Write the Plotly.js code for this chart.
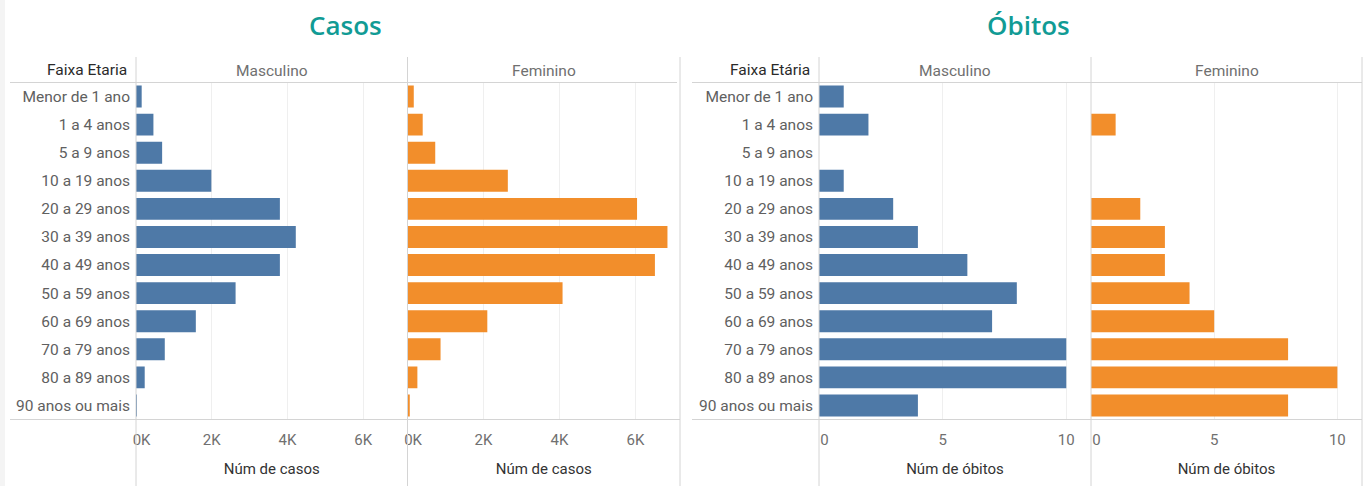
<!DOCTYPE html>
<html>
<head>
<meta charset="utf-8">
<script src="https://cdn.plot.ly/plotly-3.0.1.min.js"></script>
<style>
  html, body { margin: 0; padding: 0; background: #ffffff; }
  #chart { width: 1363px; height: 486px; }
</style>
</head>
<body>
<div id="chart"></div>
<script>
// ---- data ----
const faixas = ["Menor de 1 ano", "1 a 4 anos", "5 a 9 anos", "10 a 19 anos", "20 a 29 anos",
  "30 a 39 anos", "40 a 49 anos", "50 a 59 anos", "60 a 69 anos", "70 a 79 anos",
  "80 a 89 anos", "90 anos ou mais"];
const casosMasculino = [150, 460, 690, 1990, 3800, 4220, 3800, 2630, 1580, 760, 230, 25];
const casosFeminino  = [165, 400, 730, 2640, 6040, 6840, 6510, 4080, 2100, 870, 260, 60];
const obitosMasculino = [1, 2, 0, 1, 3, 4, 6, 8, 7, 10, 10, 4];
const obitosFeminino  = [0, 1, 0, 0, 2, 3, 3, 4, 5, 8, 10, 8];
const casosTickVals = [0, 2000, 4000, 6000];
const casosTickText = ["0K", "2K", "4K", "6K"];
const obitosTickVals = [0, 5, 10];
const obitosTickText = ["0", "5", "10"];
const sexos = ["Masculino", "Feminino"];
const titulos = ["Casos", "Óbitos"];
const cabecalhoFaixa = ["Faixa Etaria", "Faixa Etária"];
const tituloEixo = ["Núm de casos", "Núm de óbitos"];

// ---- layout helpers (pixel -> paper) ----
const W = 1363, H = 486;
const px = x => x / W;
const py = y => 1 - y / H;

const BLUE = "#4e79a7", ORANGE = "#f28e2b";
const TFONT = "Open Sans, Noto Sans, sans-serif";
const FONT = "Roboto, Open Sans, sans-serif";
const LINE = "#d4d4d4";
const GRID = "#efefef";
const NB = "\u00a0\u00a0\u00a0";   // nudges the first tick label inside its panel

const yTop = 82.5, yBot = 419.5;
const panels = [[136, 407.5], [407.5, 680], [819, 1091], [1091, 1362]];

const bar = (x, y, color, xa, ya) => ({
  type: "bar", orientation: "h", x: x, y: y, xaxis: xa, yaxis: ya,
  marker: { color: color, line: { color: color, width: 0 } },
  hoverinfo: "x+y", showlegend: false
});

const data = [
  bar(casosMasculino, faixas, BLUE, "x", "y"),
  bar(casosFeminino, faixas, ORANGE, "x2", "y"),
  bar(obitosMasculino, faixas, BLUE, "x3", "y2"),
  bar(obitosFeminino, faixas, ORANGE, "x4", "y2")
];

function xAxis(i, range, tv, tt, title, anchor) {
  return {
    domain: [px(panels[i][0]), px(panels[i][1])],
    anchor: anchor,
    range: range,
    tickvals: tv, ticktext: tt.map((t, k) => k === 0 ? NB + t : t),
    showgrid: true, gridcolor: GRID, gridwidth: 1,
    zeroline: false, showline: false, ticks: "",
    ticklabelstandoff: 9,
    tickfont: { family: FONT, size: 15, color: "#707070" },
    title: { text: title, standoff: 15, font: { family: FONT, size: 15, color: "#333333", weight: 400 } },
    fixedrange: true
  };
}

function yAxis(anchor) {
  return {
    domain: [py(yBot), py(yTop)],
    anchor: anchor,
    type: "category",
    categoryorder: "array", categoryarray: faixas,
    autorange: "reversed",
    showgrid: false, zeroline: false, showline: false, ticks: "",
    ticklabelstandoff: 5,
    tickfont: { family: FONT, size: 15.5, color: "#606060" },
    fixedrange: true
  };
}

const shapes = [];
const addLine = (x0, y0, x1, y1) => shapes.push({
  type: "line", xref: "paper", yref: "paper",
  x0: px(x0), y0: py(y0), x1: px(x1), y1: py(y1),
  line: { color: LINE, width: 1 }
});
// left light strip
shapes.push({ type: "rect", xref: "paper", yref: "paper", x0: 0, x1: px(5), y0: 0, y1: 1,
  fillcolor: "#f4f4f4", line: { width: 0 }, layer: "below" });
// horizontal lines
addLine(10, yTop, 677, yTop); addLine(692, yTop, 1362, yTop);
addLine(10, yBot, 680, yBot); addLine(692, yBot, 1362, yBot);
// vertical panel borders
[136, 407.5, 680, 819, 1091, 1362].forEach(x => addLine(x, 57, x, 486));

const annotations = [];
const ann = (text, x, y, size, color, anchor, weight, family) => annotations.push({
  text: text, xref: "paper", yref: "paper", x: px(x), y: py(y),
  xanchor: anchor, yanchor: "middle", showarrow: false,
  font: { family: family || FONT, size: size, color: color, weight: weight || 400 }
});
// titles
ann(titulos[0], 345, 25, 26, "#119b95", "center", 600, TFONT);
ann(titulos[1], 1028, 25, 26, "#119b95", "center", 600, TFONT);
// headers
ann(cabecalhoFaixa[0], 129, 70, 15.5, "#2a2a2a", "right", 400);
ann(cabecalhoFaixa[1], 812, 70, 15.5, "#2a2a2a", "right", 400);
ann(sexos[0], (panels[0][0] + panels[0][1]) / 2, 71, 15.5, "#707070", "center");
ann(sexos[1], (panels[1][0] + panels[1][1]) / 2, 71, 15.5, "#707070", "center");
ann(sexos[0], (panels[2][0] + panels[2][1]) / 2, 71, 15.5, "#707070", "center");
ann(sexos[1], (panels[3][0] + panels[3][1]) / 2, 71, 15.5, "#707070", "center");

const layout = {
  width: W, height: H,
  margin: { l: 0, r: 0, t: 0, b: 0, pad: 0 },
  paper_bgcolor: "#ffffff", plot_bgcolor: "rgba(0,0,0,0)",
  bargap: 0.22,
  showlegend: false,
  font: { family: FONT },
  xaxis: xAxis(0, [0, 7170], casosTickVals, casosTickText, tituloEixo[0], "y"),
  xaxis2: xAxis(1, [0, 7170], casosTickVals, casosTickText, tituloEixo[0], "y"),
  xaxis3: xAxis(2, [0, 11], obitosTickVals, obitosTickText, tituloEixo[1], "y2"),
  xaxis4: xAxis(3, [0, 11], obitosTickVals, obitosTickText, tituloEixo[1], "y2"),
  yaxis: yAxis("x"),
  yaxis2: yAxis("x3"),
  shapes: shapes,
  annotations: annotations
};

Plotly.newPlot("chart", data, layout, { displayModeBar: false, staticPlot: true });
</script>
</body>
</html>
